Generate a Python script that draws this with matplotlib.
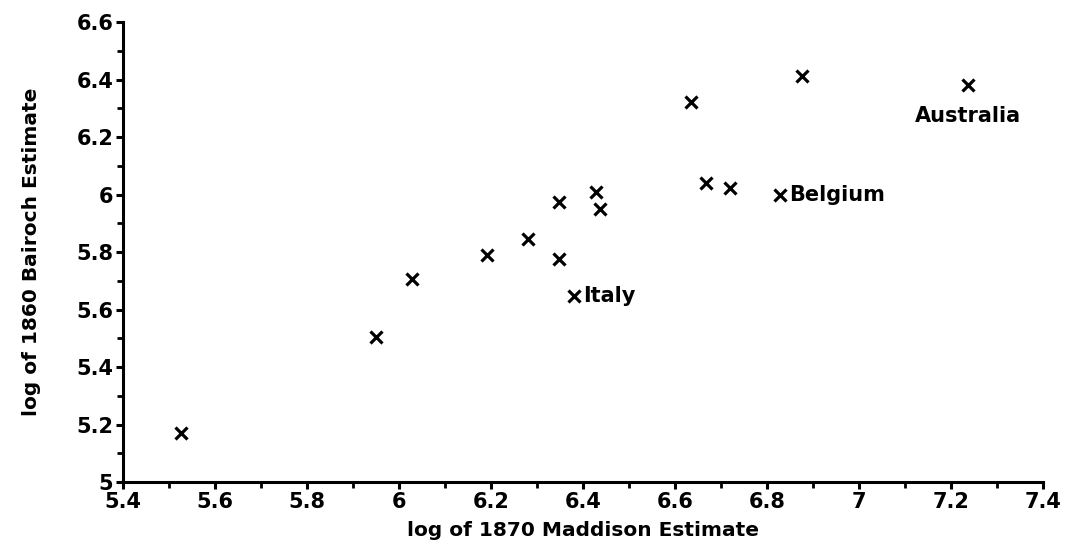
import matplotlib
matplotlib.use("Agg")
import matplotlib.pyplot as plt
from matplotlib.ticker import MultipleLocator, FuncFormatter

# Data
maddison_1870 = [5.526, 5.950, 6.028, 6.191, 6.280, 6.348, 6.348, 6.428, 6.437,
                 6.380, 6.667, 6.720, 6.828, 6.635, 6.876, 7.237]
bairoch_1860 = [5.170, 5.504, 5.706, 5.790, 5.845, 5.974, 5.776, 6.009, 5.950,
                5.647, 6.040, 6.023, 5.998, 6.322, 6.412, 6.381]
labels = ["", "", "", "", "", "", "", "", "",
          "Italy", "", "", "Belgium", "", "", "Australia"]

x_ticks = [5.4, 5.6, 5.8, 6.0, 6.2, 6.4, 6.6, 6.8, 7.0, 7.2, 7.4]
y_ticks = [5.0, 5.2, 5.4, 5.6, 5.8, 6.0, 6.2, 6.4, 6.6]

plt.rcParams['font.family'] = ['DejaVu Sans']
plt.rcParams['font.weight'] = 'bold'

fig = plt.figure(figsize=(10.69, 5.5), dpi=100)
ax = fig.add_axes([0.115, 0.1236, 0.8607, 0.8364])

ax.plot(maddison_1870, bairoch_1860, linestyle='none', marker='x',
        markersize=9, markeredgewidth=2.3, color='black')

for x, y, lab in zip(maddison_1870, bairoch_1860, labels):
    if not lab:
        continue
    if lab == "Australia":
        ax.annotate(lab, (x, y), xytext=(0, -15), textcoords='offset points',
                    ha='center', va='top', fontsize=15, fontweight='bold')
    else:
        ax.annotate(lab, (x, y), xytext=(6.5, 0), textcoords='offset points',
                    ha='left', va='center', fontsize=15, fontweight='bold')

ax.set_xlim(5.4, 7.4)
ax.set_ylim(5.0, 6.6)
ax.set_xticks(x_ticks)
ax.set_yticks(y_ticks)
ax.xaxis.set_minor_locator(MultipleLocator(0.1))
ax.yaxis.set_minor_locator(MultipleLocator(0.1))

fmt = FuncFormatter(lambda v, p: ('%g' % round(v, 2)))
ax.xaxis.set_major_formatter(fmt)
ax.yaxis.set_major_formatter(fmt)

for s in ['top', 'right']:
    ax.spines[s].set_visible(False)
for s in ['left', 'bottom']:
    ax.spines[s].set_linewidth(2.2)

ax.tick_params(which='major', direction='out', length=5, width=2.2,
               labelsize=15, pad=2)
ax.tick_params(which='minor', direction='out', length=4, width=2)

ax.set_xlabel("log of 1870 Maddison Estimate", fontsize=14.5, fontweight='bold',
              labelpad=7)
ax.set_ylabel("log of 1860 Bairoch Estimate", fontsize=14.5, fontweight='bold',
              labelpad=25)

fig.savefig("out.png", dpi=100)
